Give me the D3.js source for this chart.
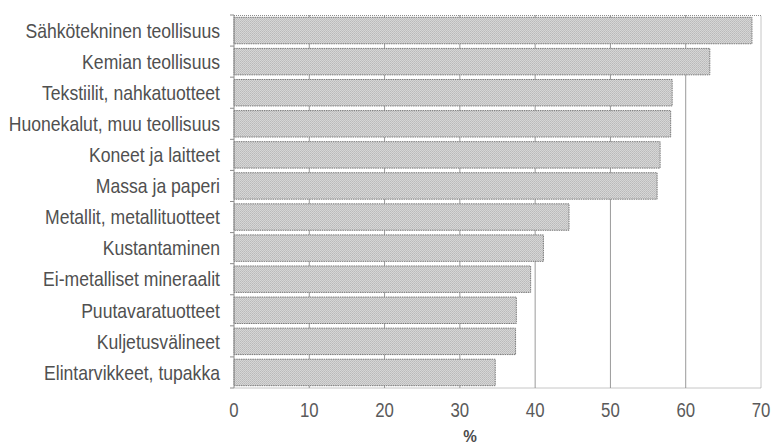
<!DOCTYPE html>
<html>
<head>
<meta charset="utf-8">
<script src="https://cdn.jsdelivr.net/npm/d3@7/dist/d3.min.js"></script>
<style>
  html, body { margin: 0; padding: 0; background: #fff; }
  svg { display: block; }
</style>
</head>
<body>
<div id="chart"></div>
<script>
// Toimialat ja osuudet (%)
const industries = [
  "Sähkötekninen teollisuus",
  "Kemian teollisuus",
  "Tekstiilit, nahkatuotteet",
  "Huonekalut, muu teollisuus",
  "Koneet ja laitteet",
  "Massa ja paperi",
  "Metallit, metallituotteet",
  "Kustantaminen",
  "Ei-metalliset mineraalit",
  "Puutavaratuotteet",
  "Kuljetusvälineet",
  "Elintarvikkeet, tupakka",
];
const shares = [68.8, 63.2, 58.2, 58.0, 56.6, 56.2, 44.5, 41.1, 39.4, 37.5, 37.4, 34.7];
const xTicks = [0, 10, 20, 30, 40, 50, 60, 70];

const W = 776, H = 445;
const margin = { top: 15, right: 15, bottom: 57, left: 234 };
const width = W - margin.left - margin.right;
const height = H - margin.top - margin.bottom;

// condensed look: Liberation Sans squeezed horizontally
const font = "'Liberation Sans', Arial, sans-serif";

const svg = d3.select("#chart")
  .append("svg")
  .attr("width", W)
  .attr("height", H);

// stipple pattern for the bars
const defs = svg.append("defs");
const pat = defs.append("pattern")
  .attr("id", "dots")
  .attr("width", 2)
  .attr("height", 2)
  .attr("patternUnits", "userSpaceOnUse");
pat.append("rect").attr("width", 2).attr("height", 2).attr("fill", "#d6d6d6");
pat.append("rect").attr("width", 1).attr("height", 1).attr("fill", "#bababa");
pat.append("rect").attr("x", 1).attr("y", 1).attr("width", 1).attr("height", 1).attr("fill", "#c2c2c2");

const chart = svg.append("g")
  .attr("transform", `translate(${margin.left},${margin.top})`);

const x = d3.scaleLinear().domain([0, 70]).range([0, width]);
const y = d3.scaleBand()
  .domain(industries)
  .range([0, height])
  .paddingInner(0.15)
  .paddingOuter(0.075);

// gridlines
chart.append("g")
  .selectAll("line")
  .data(xTicks.filter((d) => d > 0 && d < 70))
  .join("line")
  .attr("x1", (d) => x(d))
  .attr("x2", (d) => x(d))
  .attr("y1", 0)
  .attr("y2", height)
  .attr("stroke", "#9a9a9a")
  .attr("stroke-width", 1);

// frame: dotted top, right and bottom
chart.append("path")
  .attr("d", `M0,0.5H${width}V${height}H0`)
  .attr("fill", "none")
  .attr("stroke", "#8c8c8c")
  .attr("stroke-width", 1)
  .attr("stroke-dasharray", "1,1");

// bars
chart.append("g")
  .selectAll("rect")
  .data(shares)
  .join("rect")
  .attr("x", 0)
  .attr("y", (d, i) => y(industries[i]))
  .attr("width", (d) => x(d))
  .attr("height", y.bandwidth())
  .attr("fill", "url(#dots)")
  .attr("stroke", "#7a7a7a")
  .attr("stroke-width", 1)
  .attr("stroke-dasharray", "1.5,0.8");

// left axis line with ticks at band boundaries
chart.append("line")
  .attr("x1", 0).attr("x2", 0)
  .attr("y1", 0).attr("y2", height)
  .attr("stroke", "#8c8c8c")
  .attr("stroke-width", 1);

const bounds = industries.map((d) => y(d) - (y.step() * y.paddingInner()) / 2);
bounds.push(height);
bounds[0] = 0;
chart.append("g")
  .selectAll("line")
  .data(bounds)
  .join("line")
  .attr("x1", -4)
  .attr("x2", 0)
  .attr("y1", (d) => d)
  .attr("y2", (d) => d)
  .attr("stroke", "#8c8c8c");

// category labels
chart.append("g")
  .selectAll("text")
  .data(industries)
  .join("text")
  .attr("transform", (d) => `translate(-14,${y(d) + y.bandwidth() / 2}) scale(0.88,1)`)
  .attr("dy", "0.36em")
  .attr("text-anchor", "end")
  .style("font-family", font)
  .style("font-size", "20px")
  .style("fill", "#505050")
  .text((d) => d);

// x tick labels
chart.append("g")
  .selectAll("text")
  .data(xTicks)
  .join("text")
  .attr("transform", (d) => `translate(${x(d)},${height + 29}) scale(0.8,1)`)
  .attr("text-anchor", "middle")
  .style("font-family", font)
  .style("font-size", "21px")
  .style("fill", "#5a5a5a")
  .text((d) => d);

// axis title
svg.append("text")
  .attr("transform", "translate(470,442) scale(0.9,1)")
  .attr("text-anchor", "middle")
  .style("font-family", font)
  .style("font-size", "17px")
  .style("font-weight", "bold")
  .style("fill", "#4a4a4a")
  .text("%");
</script>
</body>
</html>
